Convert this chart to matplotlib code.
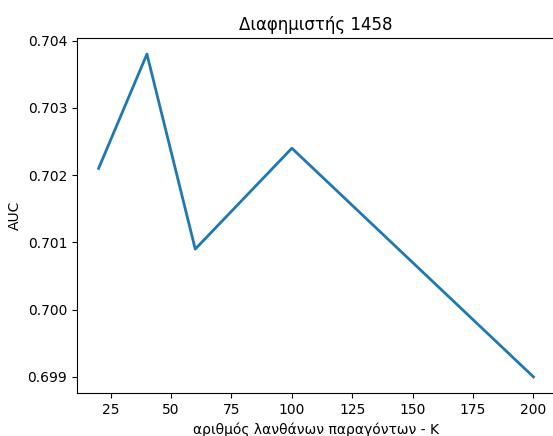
import matplotlib
matplotlib.use("Agg")
import matplotlib.pyplot as plt

k_values = [20, 40, 60, 100, 200]
auc_values = [0.7021, 0.7038, 0.7009, 0.7024, 0.6990]
title = "Διαφημιστής 1458"
xlabel = "αριθμός λανθάνων παραγόντων - K"
ylabel = "AUC"

fig = plt.figure(figsize=(5.53, 4.36), dpi=100)
ax = fig.add_axes([0.139, 0.0986, 0.865, 0.8144])
ax.plot(k_values, auc_values, color="#1f77b4", linewidth=2)
ax.set_title(title)
ax.set_xlabel(xlabel)
ax.set_ylabel(ylabel)
fig.savefig("out.png", dpi=100)
